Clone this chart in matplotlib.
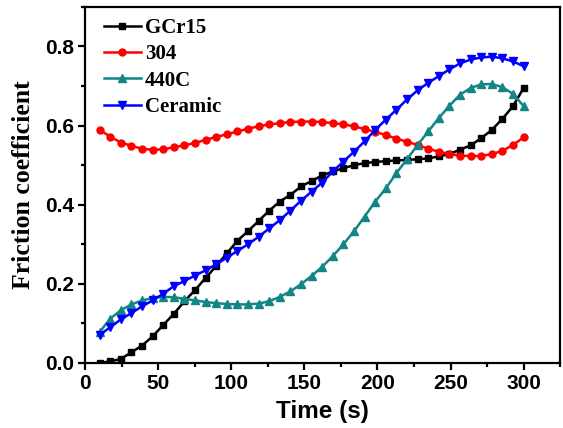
import numpy as np
import matplotlib.pyplot as plt
from matplotlib.ticker import MultipleLocator

# sampling times (s)
time = np.linspace(10, 300, 41)

gcr15 = [0.000, 0.004, 0.010, 0.027, 0.044, 0.067, 0.096, 0.124, 0.156, 0.184,
         0.215, 0.245, 0.277, 0.309, 0.333, 0.359, 0.385, 0.408, 0.425, 0.446,
         0.460, 0.474, 0.484, 0.492, 0.500, 0.505, 0.508, 0.510, 0.512, 0.513,
         0.515, 0.517, 0.522, 0.528, 0.539, 0.550, 0.568, 0.589, 0.617, 0.649,
         0.695]

ss304 = [0.589, 0.572, 0.557, 0.549, 0.541, 0.539, 0.540, 0.545, 0.550, 0.556,
         0.564, 0.571, 0.578, 0.585, 0.592, 0.598, 0.603, 0.606, 0.609, 0.610,
         0.610, 0.609, 0.606, 0.603, 0.598, 0.591, 0.584, 0.576, 0.567, 0.559,
         0.551, 0.541, 0.534, 0.528, 0.524, 0.523, 0.523, 0.528, 0.536, 0.551,
         0.570]

c440 = [0.078, 0.112, 0.133, 0.148, 0.158, 0.164, 0.167, 0.166, 0.162, 0.158,
        0.154, 0.151, 0.149, 0.148, 0.148, 0.150, 0.156, 0.167, 0.181, 0.199,
        0.220, 0.243, 0.270, 0.300, 0.333, 0.370, 0.408, 0.441, 0.480, 0.515,
        0.551, 0.585, 0.619, 0.650, 0.678, 0.695, 0.704, 0.705, 0.697, 0.680,
        0.649]

ceramic = [0.071, 0.090, 0.110, 0.126, 0.143, 0.158, 0.175, 0.194, 0.207, 0.221,
           0.234, 0.249, 0.266, 0.283, 0.300, 0.319, 0.340, 0.361, 0.385, 0.410,
           0.433, 0.456, 0.484, 0.509, 0.534, 0.560, 0.589, 0.615, 0.640, 0.666,
           0.689, 0.708, 0.725, 0.742, 0.757, 0.767, 0.772, 0.774, 0.770, 0.762,
           0.750]

fig = plt.figure(figsize=(5.63, 4.28), dpi=100)
ax = fig.add_axes([0.151, 0.152, 0.844, 0.832])

ax.plot(time, gcr15, color="black", marker="s", markersize=4.5, lw=1.8, label="GCr15")
ax.plot(time, ss304, color="red", marker="o", markersize=5, lw=1.8, label="304")
ax.plot(time, c440, color="#138585", marker="^", markersize=5.5, lw=1.8, label="440C")
ax.plot(time, ceramic, color="blue", marker="v", markersize=5.5, lw=1.8, label="Ceramic")

ax.set_xlim(0, 325)
ax.set_ylim(0, 0.9)
ax.xaxis.set_major_locator(MultipleLocator(50))
ax.xaxis.set_minor_locator(MultipleLocator(25))
ax.yaxis.set_major_locator(MultipleLocator(0.2))
ax.yaxis.set_minor_locator(MultipleLocator(0.1))
ax.yaxis.set_major_formatter(plt.FuncFormatter(lambda v, p: "%.1f" % v))

for s in ax.spines.values():
    s.set_linewidth(1.6)
ax.tick_params(which="both", direction="out", width=1.6, top=False, right=False, pad=3)
ax.tick_params(which="major", length=5)
ax.tick_params(which="minor", length=3)
for lab in ax.get_xticklabels() + ax.get_yticklabels():
    lab.set_family("Liberation Sans")
    lab.set_fontweight("bold")
    lab.set_fontsize(15)

ax.set_xlabel("Time (s)", family="Liberation Sans", fontweight="bold", fontsize=17.5, labelpad=5)
ax.set_ylabel("Friction coefficient", family="Liberation Serif", fontweight="bold", fontsize=18.5, labelpad=7)

ax.legend(loc="upper left", bbox_to_anchor=(0.025, 0.989), frameon=False,
          handlelength=1.75, handletextpad=0.2, labelspacing=0.3,
          borderaxespad=0.05, borderpad=0.3,
          prop={"family": "Liberation Serif", "weight": "bold", "size": 15})

fig.savefig("out.png", dpi=100)
